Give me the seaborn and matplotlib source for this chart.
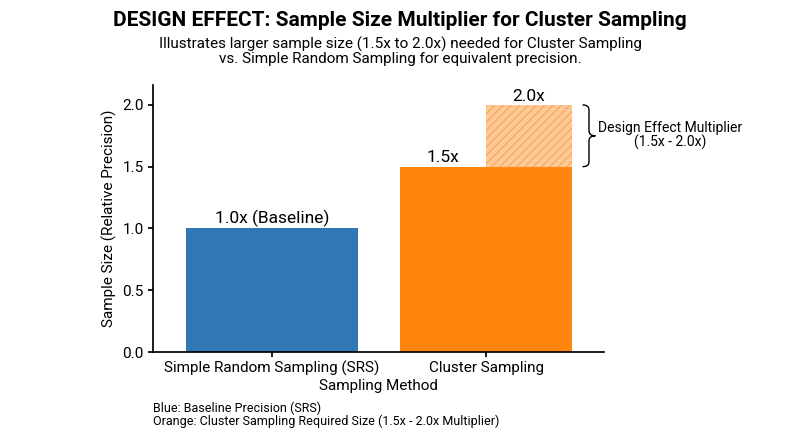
import matplotlib
matplotlib.use("Agg")
import matplotlib.pyplot as plt
from matplotlib.path import Path
from matplotlib.patches import PathPatch
import seaborn as sns
import pandas as pd

methods = ["Simple Random Sampling (SRS)", "Cluster Sampling"]
sizes = [1.0, 1.5]
upper_multiplier = 2.0
bar_labels = ["1.0x (Baseline)", "1.5x"]
upper_label = "2.0x"
colors = ["#2f78b4", "#ff850f"]

sns.set_theme(style="ticks")
plt.rcParams['font.family'] = ['Roboto', 'DejaVu Sans']
plt.rcParams.update({"text.color": "black", "axes.labelcolor": "black",
                     "xtick.color": "black", "ytick.color": "black",
                     "axes.edgecolor": "black", "hatch.linewidth": 0.7})

fig = plt.figure(figsize=(8, 4.47), dpi=100)
ax = fig.add_axes([0.191, 0.2125, 0.564, 0.597])

df = pd.DataFrame({"Sampling Method": methods, "Sample Size": sizes})
sns.barplot(data=df, x="Sampling Method", y="Sample Size", hue="Sampling Method",
            palette=colors, width=0.8, ax=ax, legend=False, saturation=1, linewidth=0)

# extension bar for the design effect range (right half of cluster bar)
ax.bar([1.2], [upper_multiplier - sizes[1]], bottom=[sizes[1]], width=0.4,
       facecolor="#ffc995", hatch="////", edgecolor="#f5a050", linewidth=0)

ax.text(0, sizes[0] + 0.01, bar_labels[0], ha="center", va="bottom", fontsize=12.5)
ax.text(0.8, sizes[1] + 0.01, bar_labels[1], ha="center", va="bottom", fontsize=12.5)
ax.text(1.2, upper_multiplier + 0.01, upper_label, ha="center", va="bottom", fontsize=12.5)

# curly brace
y0, y1 = sizes[1], upper_multiplier
ym = (y0 + y1) / 2
x0, xm, xp = 1.45, 1.48, 1.51
r = 0.04
verts = [(x0, y1), (xm, y1), (xm, y1 - r), (xm, ym + r), (xm, ym), (xp, ym),
         (xm, ym), (xm, ym - r), (xm, y0 + r), (xm, y0), (x0, y0)]
codes = [Path.MOVETO, Path.CURVE3, Path.CURVE3, Path.LINETO, Path.CURVE3, Path.CURVE3,
         Path.CURVE3, Path.CURVE3, Path.LINETO, Path.CURVE3, Path.CURVE3]
brace = PathPatch(Path(verts, codes), facecolor="none", edgecolor="black", lw=1,
                  clip_on=False)
ax.add_patch(brace)
ax.text(1.86, ym, "Design Effect Multiplier\n(1.5x - 2.0x)", ha="center", va="center",
        fontsize=10, linespacing=1.0, clip_on=False)

ax.set_xlim(-0.556, 1.55)
ax.set_ylim(0, 2.16)
ax.set_yticks([0, 0.5, 1.0, 1.5, 2.0])
ax.set_xlabel("Sampling Method", fontsize=11, labelpad=2)
ax.set_ylabel("Sample Size (Relative Precision)", fontsize=11, labelpad=4)
ax.tick_params(labelsize=11, length=3.5, pad=3)
sns.despine(ax=ax)

fig.text(0.5, 0.955, "DESIGN EFFECT: Sample Size Multiplier for Cluster Sampling",
         ha="center", va="center", fontsize=15, fontweight="bold")
fig.text(0.5, 0.885, "Illustrates larger sample size (1.5x to 2.0x) needed for Cluster Sampling\nvs. Simple Random Sampling for equivalent precision.",
         ha="center", va="center", fontsize=11, linespacing=1.0)
fig.text(0.191, 0.072, "Blue: Baseline Precision (SRS)\nOrange: Cluster Sampling Required Size (1.5x - 2.0x Multiplier)",
         ha="left", va="center", fontsize=9, linespacing=1.05)

fig.savefig("out.png", dpi=100)
